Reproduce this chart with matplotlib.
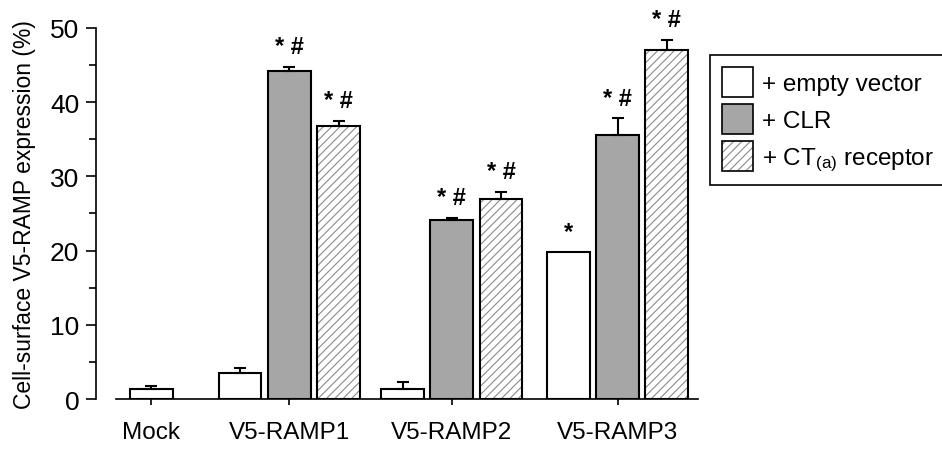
import numpy as np
import matplotlib
matplotlib.use('Agg')
import matplotlib.pyplot as plt
from matplotlib.patches import Patch

plt.rcParams['font.family'] = ['Liberation Sans', 'DejaVu Sans']
plt.rcParams['mathtext.default'] = 'regular'
plt.rcParams['hatch.linewidth'] = 0.8

groups = ['Mock', 'V5-RAMP1', 'V5-RAMP2', 'V5-RAMP3']
series = ['+ empty vector', '+ CLR', '+ CT$_{(a)}$ receptor']

empty = [1.4, 3.5, 1.3, 19.8]
empty_err = [0.3, 0.7, 1.0, 0.0]
clr = [np.nan, 44.2, 24.1, 35.6]
clr_err = [0, 0.5, 0.3, 2.2]
cta = [np.nan, 36.8, 26.9, 47.0]
cta_err = [0, 0.7, 1.0, 1.4]

sig_empty = ['', '', '', '*']
sig_clr = ['', '* #', '* #', '* #']
sig_cta = ['', '* #', '* #', '* #']

# group centres; the Mock group only holds one bar
xc = np.array([0.16, 1.0, 1.99, 3.0])
off = 0.3
w = 0.26

fig = plt.figure(figsize=(9.42, 4.52), dpi=100)
ax = fig.add_axes([0.102, 0.115, 0.639, 0.821])

xs_e = xc.copy()
xs_e[1:] = xc[1:] - off
xs_c = xc
xs_t = xc + off

ax.bar(xs_e, empty, w, facecolor='white', edgecolor='black', lw=1.5, zorder=2)
ax.bar(xs_c, clr, w, facecolor='#a6a6a6', edgecolor='black', lw=1.5, zorder=2)
ax.bar(xs_t, cta, w, facecolor='white', edgecolor='#8a8a8a', hatch='////', lw=0, zorder=2)
ax.bar(xs_t, cta, w, facecolor='none', edgecolor='black', lw=1.5, zorder=3)

for xs, vals, errs, sigs in [(xs_e, empty, empty_err, sig_empty),
                             (xs_c, clr, clr_err, sig_clr),
                             (xs_t, cta, cta_err, sig_cta)]:
    vals = np.array(vals, dtype=float)
    errs = np.array(errs, dtype=float)
    ok = ~np.isnan(vals) & (errs > 0)
    ax.errorbar(xs[ok], vals[ok], yerr=[np.zeros(ok.sum()), errs[ok]],
                fmt='none', ecolor='black', elinewidth=1.5, capsize=4,
                capthick=1.5, zorder=4)
    for x, v, e, s in zip(xs, vals, errs, sigs):
        if s:
            ax.text(x, v + e + 1.2, s, ha='center', va='bottom',
                    fontsize=17, fontweight='bold')

ax.set_xlim(-0.177, 3.49)
ax.set_ylim(0, 50)
ax.spines['top'].set_visible(False)
ax.spines['right'].set_visible(False)
ax.spines['bottom'].set_bounds(-0.055, 3.49)
ax.spines['left'].set_linewidth(1.2)
ax.spines['bottom'].set_linewidth(1.2)

ax.set_yticks(np.arange(0, 51, 10))
ax.set_yticks(np.arange(5, 50, 10), minor=True)
ax.tick_params(axis='y', which='major', length=7, width=1.2, pad=5, labelsize=19)
ax.tick_params(axis='y', which='minor', length=5, width=1.2)
ax.set_xticks(xc)
ax.set_xticklabels(groups)
ax.tick_params(axis='x', length=4, width=1.2, pad=12, labelsize=17.5)
ax.set_ylabel('Cell-surface V5-RAMP expression (%)', fontsize=16.5, labelpad=10)

handles = [Patch(facecolor='white', edgecolor='black', lw=1.2),
           Patch(facecolor='#a6a6a6', edgecolor='black', lw=1.2),
           (Patch(facecolor='white', edgecolor='#8a8a8a', hatch='////', lw=0),
            Patch(facecolor='none', edgecolor='black', lw=1.2))]
leg = ax.legend(handles, series, loc='upper left',
                bbox_to_anchor=(710 / 942, 1 - 56 / 452),
                bbox_transform=fig.transFigure, fontsize=17.5,
                handlelength=1.25, handleheight=1.5, labelspacing=0.3,
                handletextpad=0.4, borderpad=0.5, borderaxespad=0,
                fancybox=False, framealpha=1, edgecolor='black')
leg.get_frame().set_linewidth(1.2)

fig.savefig('out.png', dpi=100)
